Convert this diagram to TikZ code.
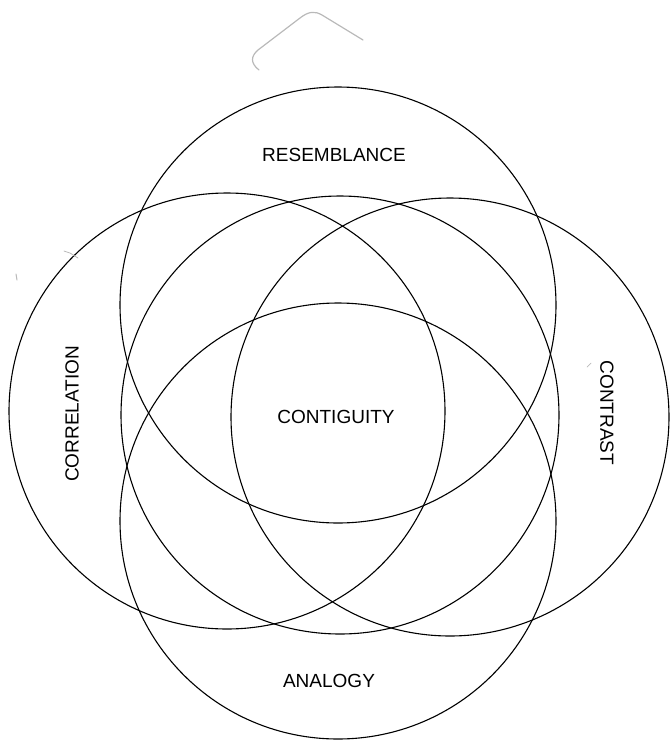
\documentclass[tikz,border=0pt]{standalone}
\usepackage{fontspec}
\newfontfamily\labelfont{Liberation Sans}
\usepackage{tikz}
\usetikzlibrary{positioning}
\tikzset{
    ring/.style={line width=1.1pt, black},
    word/.style={font=\labelfont\fontsize{19}{19}\selectfont, inner sep=0pt},
    smudge/.style={line width=1.2pt, gray!55, line cap=round}
}
\begin{document}
\begin{tikzpicture}[x=1pt,y=-1pt]
    % 画布大小
    \useasboundingbox (0,0) rectangle (670,740);
    % 五个圆
    \draw[ring] (338,305) circle[radius=218];
    \draw[ring] (338,521) circle[radius=218];
    \draw[ring] (227,411) circle[radius=218];
    \draw[ring] (450,417) circle[radius=219];
    \draw[ring] (340,415) circle[radius=219];
    % 标签
    \node[word] (resemblance) at (334,155) {RESEMBLANCE};
    \node[word] (contiguity) at (336,417) {CONTIGUITY};
    \node[word] (analogy) at (329,681) {ANALOGY};
    \node[word, rotate=90] (correlation) at (72,414) {CORRELATION};
    \node[word, rotate=-90] (contrast) at (607,413) {CONTRAST};
    % 灰色笔迹
    \draw[smudge] (259,70) .. controls (250,63) and (251,56) .. (258,50) -- (300,18)
        .. controls (309,11) and (315,11) .. (322,15) -- (363,40);
    \draw[smudge, line width=0.8pt] (64,251) -- (70,253) -- (78,258);
    \draw[smudge, line width=1pt] (16,274) -- (17,280);
    \draw[smudge, line width=0.7pt] (587,367) -- (591,363);
\end{tikzpicture}
\end{document}
